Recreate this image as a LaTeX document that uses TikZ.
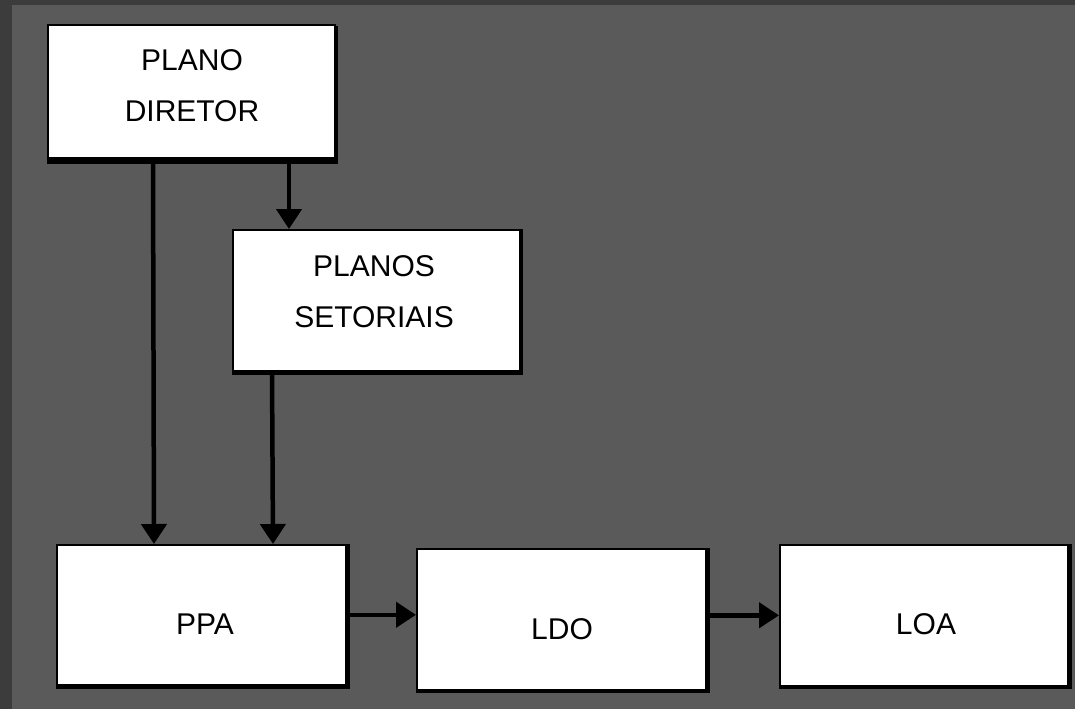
\documentclass[tikz,border=0pt]{standalone}
\usepackage{fontspec}
\setmainfont{Liberation Sans}
\usetikzlibrary{arrows.meta,calc}
\definecolor{bgmain}{HTML}{5A5A5A}
\definecolor{bgdark}{HTML}{3C3C3C}
\tikzset{
  boxshape/.style={draw=black, line width=1.6pt, fill=white, inner sep=0pt, anchor=north west},
  shadowshape/.style={fill=black, inner sep=0pt, anchor=north west},
  lbl/.style={font=\fontsize{30}{51}\selectfont, text=black, align=center, inner sep=0pt},
  arr/.style={line width=4.5pt, -{Triangle[width=25pt,length=20pt]}},
}
\begin{document}
\begin{tikzpicture}[x=1pt,y=-1pt]
\useasboundingbox (0,0) rectangle (1075,709);
\fill[bgdark] (0,0) rectangle (1075,709);
\fill[bgmain] (12,5) rectangle (1075,709);
% shadows
\node[shadowshape, minimum width=291pt, minimum height=138pt] (sA) at (47,26) {};
\node[shadowshape, minimum width=291pt, minimum height=146pt] (sB) at (232,229) {};
\node[shadowshape, minimum width=294pt, minimum height=145pt] (sC) at (56,544) {};
\node[shadowshape, minimum width=294pt, minimum height=145pt] (sD) at (416,548) {};
\node[shadowshape, minimum width=293pt, minimum height=145pt] (sE) at (779,544) {};
% boxes
\node[boxshape, minimum width=287pt, minimum height=133pt] (A) at (47,24) {};
\node[boxshape, minimum width=287pt, minimum height=141pt] (B) at (232,229) {};
\node[boxshape, minimum width=289pt, minimum height=140pt] (C) at (56,544) {};
\node[boxshape, minimum width=289pt, minimum height=141pt] (D) at (416,548) {};
\node[boxshape, minimum width=288pt, minimum height=141pt] (E) at (779,544) {};
% labels
\node[lbl] (tA) at (192,86) {PLANO\\DIRETOR};
\node[lbl] (tB) at (374,292) {PLANOS\\SETORIAIS};
\node[lbl] (tC) at (205,624) {PPA};
\node[lbl] (tD) at (562,629) {LDO};
\node[lbl] (tE) at (926,624) {LOA};
% connectors
\draw[arr] ([xshift=106pt]A.south west) -- ([xshift=98pt]C.north west);
\draw[arr] ([xshift=242pt]A.south west) -- ([xshift=57pt]B.north west);
\draw[arr] ([xshift=40pt]B.south west) -- ([xshift=217pt]C.north west);
\draw[arr] (C.east) -- (C.east -| D.west);
\draw[arr] (E.west -| D.east) -- (E.west);
\end{tikzpicture}
\end{document}
